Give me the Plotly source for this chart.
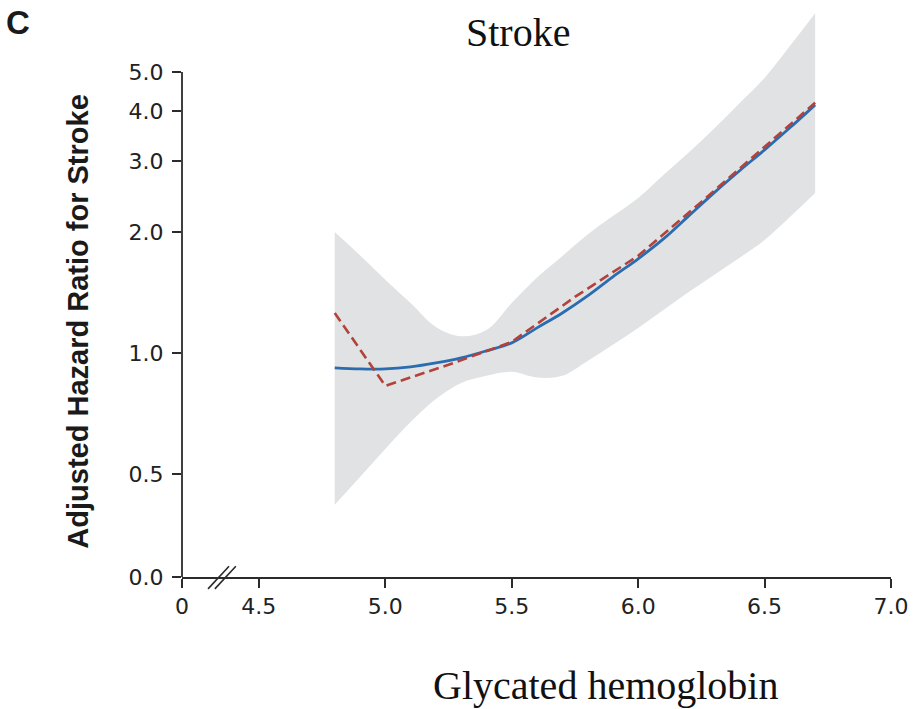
import math
import plotly.graph_objects as go

# ---------------- data ----------------
hba1c = [4.8, 4.9, 5.0, 5.1, 5.2, 5.3, 5.4, 5.5, 5.6, 5.7, 5.8, 5.9,
         6.0, 6.1, 6.2, 6.3, 6.4, 6.5, 6.6, 6.7]
hr_spline = [0.918, 0.912, 0.912, 0.923, 0.944, 0.972, 1.012, 1.059, 1.154, 1.257,
             1.386, 1.546, 1.714, 1.921, 2.192, 2.501, 2.835, 3.20, 3.63, 4.14]
ci_upper = [2.00, 1.75, 1.52, 1.33, 1.16, 1.10, 1.14, 1.33, 1.54, 1.74,
            1.97, 2.19, 2.43, 2.77, 3.15, 3.61, 4.17, 4.83, 5.80, 7.00]
ci_lower = [0.419, 0.491, 0.577, 0.673, 0.768, 0.842, 0.877, 0.897, 0.868, 0.877,
            0.955, 1.047, 1.154, 1.279, 1.418, 1.563, 1.723, 1.910, 2.178, 2.50]

hba1c_linear = [4.8, 5.0, 5.25, 5.5, 5.75, 6.0, 6.25, 6.5, 6.7]
hr_linear = [1.257, 0.828, 0.934, 1.065, 1.378, 1.744, 2.375, 3.25, 4.19]

x_tick_vals = [4.196, 4.5, 5.0, 5.5, 6.0, 6.5, 7.0]
x_tick_text = ["0", "4.5", "5.0", "5.5", "6.0", "6.5", "7.0"]
y_tick_vals = [0.277, 0.5, 1.0, 2.0, 3.0, 4.0, 5.0]
y_tick_text = ["0.0", "0.5", "1.0", "2.0", "3.0", "4.0", "5.0"]

x_range = [4.196, 7.0]
y_range = [math.log10(0.277), 0.853]

AXIS = "#2b2b2b"
TICKFONT = dict(family="DejaVu Sans", size=22, color="#222222")

fig = go.Figure()
fig.add_trace(go.Scatter(x=hba1c, y=ci_lower, mode="lines", line=dict(width=0, shape="spline"),
                         hoverinfo="skip", showlegend=False))
fig.add_trace(go.Scatter(x=hba1c, y=ci_upper, mode="lines", line=dict(width=0, shape="spline"),
                         fill="tonexty", fillcolor="#e1e2e4", hoverinfo="skip", showlegend=False))
fig.add_trace(go.Scatter(x=hba1c, y=hr_spline, mode="lines",
                         line=dict(color="#2a6cb0", width=2.8, shape="spline"), showlegend=False))
fig.add_trace(go.Scatter(x=hba1c_linear, y=hr_linear, mode="lines",
                         line=dict(color="#b2423a", width=2.6, dash="10px,5px"), showlegend=False))

# y-axis line from 0.0 to 5.0 (paper coordinates)
def yfrac(v):
    return (math.log10(v) - y_range[0]) / (y_range[1] - y_range[0])

shapes = [
    dict(type="line", xref="paper", yref="paper", x0=0, x1=0, y0=0, y1=yfrac(5.0),
         line=dict(color=AXIS, width=1.8)),
    dict(type="line", xref="x", yref="paper", x0=4.299, x1=4.382, y0=-0.021, y1=0.019,
         line=dict(color=AXIS, width=1.6)),
    dict(type="line", xref="x", yref="paper", x0=4.326, x1=4.409, y0=-0.021, y1=0.019,
         line=dict(color=AXIS, width=1.6)),
]

annotations = [
    dict(text="Stroke", xref="paper", yref="paper", x=0.474, y=0.961, showarrow=False,
         xanchor="center", yanchor="middle",
         font=dict(family="Liberation Serif", size=40, color="#111")),
    dict(text="Glycated hemoglobin", xref="paper", yref="paper", x=0.598, y=-0.192,
         showarrow=False, xanchor="center", yanchor="middle",
         font=dict(family="Liberation Serif", size=40, color="#111")),
    dict(text="<b>C</b>", xref="paper", yref="paper", x=-0.232, y=0.978, showarrow=False,
         xanchor="center", yanchor="middle",
         font=dict(family="Liberation Sans", size=33, color="#1a1a1a")),
    dict(text="<b>Adjusted Hazard Ratio for Stroke</b>", xref="paper", yref="paper",
         x=-0.147, y=0.45, showarrow=False, textangle=-90, xanchor="center", yanchor="middle",
         font=dict(family="Liberation Sans", size=29, color="#1a1a1a")),
]

fig.update_layout(
    width=918, height=709,
    margin=dict(l=182, r=27, t=10, b=132),
    paper_bgcolor="white", plot_bgcolor="white",
    shapes=shapes, annotations=annotations,
    xaxis=dict(range=x_range, tickvals=x_tick_vals, ticktext=x_tick_text,
               showline=True, linecolor=AXIS, linewidth=1.8, ticks="outside",
               ticklen=9, tickwidth=1.8, tickcolor=AXIS, showgrid=False, zeroline=False,
               tickfont=TICKFONT),
    yaxis=dict(type="log", range=y_range, tickvals=y_tick_vals, ticktext=y_tick_text,
               showline=False, ticks="outside", ticklen=9, tickwidth=1.8, tickcolor=AXIS,
               showgrid=False, zeroline=False, tickfont=TICKFONT, ticklabelstandoff=4),
)

fig.write_html("out.html")
